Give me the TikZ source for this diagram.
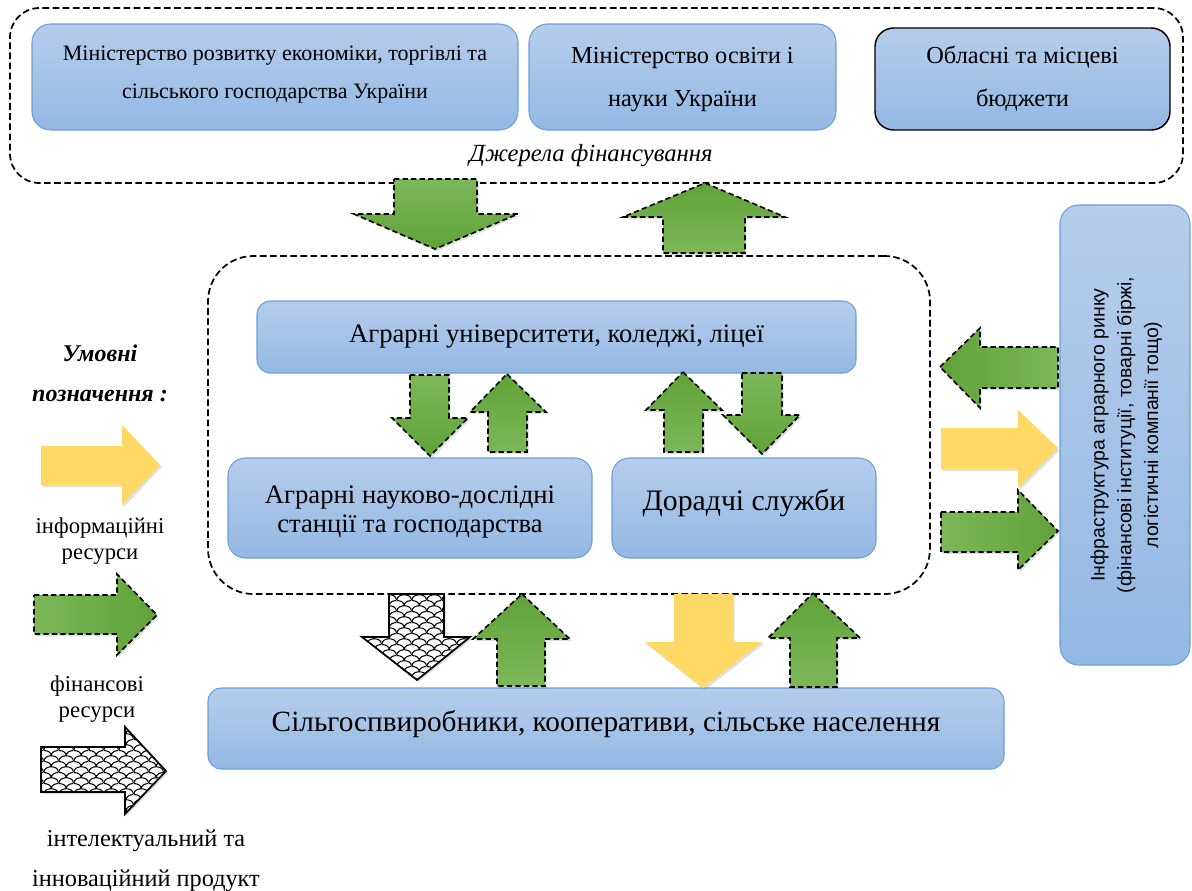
\documentclass[tikz,border=0pt]{standalone}
\usepackage{fontspec}
\setmainfont{Liberation Serif}
\setsansfont{Liberation Sans}
\usetikzlibrary{fit,patterns,shadows}

\definecolor{boxtop}{RGB}{181,205,235}
\definecolor{boxbot}{RGB}{148,184,227}
\definecolor{boxline}{RGB}{108,160,216}
\definecolor{grlight}{RGB}{124,183,88}
\definecolor{grdark}{RGB}{96,162,56}
\definecolor{infoyellow}{RGB}{255,217,102}

\newcommand\fsz[2]{\fontsize{#1}{#2}\selectfont}

% fish-scale fill of the product arrows
\pgfdeclarepatternformonly{scales}{\pgfqpoint{0pt}{0pt}}{\pgfqpoint{11pt}{8pt}}{\pgfqpoint{11pt}{8pt}}{
  \pgfsetlinewidth{0.8pt}
  \pgfpathmoveto{\pgfqpoint{0pt}{0pt}}
  \pgfpathcurveto{\pgfqpoint{0pt}{5.33pt}}{\pgfqpoint{11pt}{5.33pt}}{\pgfqpoint{11pt}{0pt}}
  \pgfpathmoveto{\pgfqpoint{5.5pt}{4pt}}
  \pgfpathcurveto{\pgfqpoint{5.5pt}{6.67pt}}{\pgfqpoint{8.25pt}{8pt}}{\pgfqpoint{11pt}{8pt}}
  \pgfpathmoveto{\pgfqpoint{0pt}{8pt}}
  \pgfpathcurveto{\pgfqpoint{2.75pt}{8pt}}{\pgfqpoint{5.5pt}{6.67pt}}{\pgfqpoint{5.5pt}{4pt}}
  \pgfusepath{stroke}
}

\tikzset{
  bluebox/.style={draw=boxline, line width=.8pt, rounded corners=10pt,
    top color=boxtop, bottom color=boxbot, inner sep=0pt},
  boxtext/.style={align=center},
  dashframe/.style={draw, line width=1.3pt, dash pattern=on 5pt off 2.6pt, inner sep=0pt},
  arrshadow/.style={drop shadow={shadow xshift=1.2pt, shadow yshift=-1.6pt, opacity=.25}},
  finarrow/.style={draw, line width=1.2pt, dash pattern=on 4pt off 2.4pt, arrshadow},
  infarrow/.style={fill=infoyellow, arrshadow},
  prodarrow/.style={draw, line width=1.3pt, fill=white, postaction={pattern=scales}, arrshadow},
  gdown/.style={finarrow, top color=grlight, bottom color=grdark},
  gup/.style={finarrow, top color=grdark, bottom color=grlight},
  gleft/.style={finarrow, left color=grdark, right color=grlight},
  gright/.style={finarrow, left color=grlight, right color=grdark},
  legtext/.style={align=center, font=\fsz{17}{19.5}}
}

\begin{document}
\begin{tikzpicture}[x=.75pt,y=-.75pt]
  \useasboundingbox (0,0) rectangle (1192,890);

  % sources of funding
  \node[dashframe, rounded corners=22pt, fit={(10,8) (1183,183)}] (sources) {};
  \node[bluebox, rounded corners=14pt, fit={(32,24) (518,130)}] (mineco) {};
  \node[bluebox, rounded corners=14pt, fit={(529,24) (836,130)}] (minedu) {};
  \node[bluebox, draw=black, line width=1.1pt, rounded corners=14pt, fit={(875,28) (1170,130)}] (budgets) {};
  \node[boxtext, font=\fsz{16.5}{28.5}] (minecotext) at ([yshift=1.5pt]mineco.center)
    {Міністерство розвитку економіки, торгівлі та\\сільського господарства України};
  \node[boxtext, font=\fsz{18.3}{32}] (minedutext) at ([yshift=-2pt]minedu.center) {Міністерство освіти і\\науки України};
  \node[boxtext, font=\fsz{18.3}{32}] (budgetstext) at ([yshift=.5pt]budgets.center) {Обласні та місцеві\\бюджети};
  \node[font=\itshape\fsz{18.5}{22}] (srclabel) at (591,156) {Джерела фінансування};

  % education, science and advisory block
  \node[dashframe, rounded corners=34pt, fit={(208,256) (930,594)}] (core) {};
  \node[bluebox, fit={(257,301) (856,373)}] (univ) {};
  \node[bluebox, rounded corners=13pt, fit={(228,458) (592,558)}] (stations) {};
  \node[bluebox, rounded corners=13pt, fit={(612,458) (876,558)}] (advisory) {};
  \node[boxtext, font=\fsz{20}{24}] (univtext) at (univ.center) {Аграрні університети, коледжі, ліцеї};
  \node[boxtext, font=\fsz{20}{22}] (stationstext) at ([yshift=-3pt]stations.center)
    {Аграрні науково-дослідні\\станції та господарства};
  \node[boxtext, font=\fsz{22.3}{26}] (advisorytext) at ([yshift=3.5pt]advisory.center) {Дорадчі служби};

  \node[bluebox, fit={(208,688) (1004,769)}] (farmers) {};
  \node[boxtext, font=\fsz{22}{26}] (farmerstext) at ([yshift=3.5pt]farmers.center)
    {Сільгоспвиробники, кооперативи, сільське населення};

  \node[bluebox, rounded corners=14pt, fit={(1060,205) (1190,665)}] (infra) {};
  \node[rotate=90, boxtext, font=\sffamily\fsz{14.6}{20}] (infratext) at ([xshift=1pt]infra.center)
    {Інфраструктура аграрного ринку\\(фінансові інституції, товарні біржі,\\логістичні компанії тощо)};

  % arrows sources <-> core
  \draw[gdown] (394,179) -- (477,179) -- (477,214) -- (518,214) -- (435,249) -- (354,214) -- (394,214) -- cycle;
  \draw[gup] (705,183) -- (785,217) -- (745,217) -- (745,253) -- (663,253) -- (663,217) -- (623,217) -- cycle;

  % arrows inside the core
  \draw[gdown] (410,375) -- (449,375) -- (449,418) -- (468,418) -- (430,456) -- (392,418) -- (410,418) -- cycle;
  \draw[gup] (507,374) -- (546,412) -- (527,412) -- (527,452) -- (488,452) -- (488,412) -- (470,412) -- cycle;
  \draw[gup] (683,372) -- (722,410) -- (703,410) -- (703,452) -- (664,452) -- (664,410) -- (646,410) -- cycle;
  \draw[gdown] (742,373) -- (782,373) -- (782,415) -- (800,415) -- (762,454) -- (723,415) -- (742,415) -- cycle;

  % arrows core <-> farmers
  \draw[prodarrow] (389,594) -- (444,594) -- (444,637) -- (470,637) -- (417,680) -- (362,637) -- (389,637) -- cycle;
  \draw[gup] (522,594) -- (570,639) -- (545,639) -- (545,686) -- (497,686) -- (497,639) -- (473,639) -- cycle;
  \path[infarrow] (674,594) -- (733,594) -- (733,642) -- (762,642) -- (703,688) -- (645,642) -- (674,642) -- cycle;
  \draw[gup] (813,593) -- (860,638) -- (837,638) -- (837,687) -- (790,687) -- (790,638) -- (768,638) -- cycle;

  % arrows core <-> market infrastructure
  \draw[gleft] (940,367) -- (980,328) -- (980,347) -- (1058,347) -- (1058,388) -- (980,388) -- (980,408) -- cycle;
  \path[infarrow] (941,428) -- (1018,428) -- (1018,410) -- (1058,448) -- (1018,488) -- (1018,469) -- (941,469) -- cycle;
  \draw[gright] (941,512) -- (1018,512) -- (1018,490) -- (1058,531) -- (1018,570) -- (1018,552) -- (941,552) -- cycle;

  % legend
  \node[align=center, font=\bfseries\itshape\fsz{18}{30}] (legtitle) at (100,373) {Умовні\\позначення :};
  \path[infarrow] (41,446) -- (122,446) -- (122,425) -- (160,465) -- (122,505) -- (122,485) -- (41,485) -- cycle;
  \node[legtext] (leginfo) at (100,541) {інформаційні\\ресурси};
  \draw[gright] (34,595) -- (117,595) -- (117,574) -- (157,615) -- (117,655) -- (117,634) -- (34,634) -- cycle;
  \node[legtext, font=\fsz{17}{20}] (legfin) at (97,699) {фінансові\\ресурси};
  \draw[prodarrow] (41,747) -- (125,747) -- (125,727) -- (166,771) -- (125,814) -- (125,792) -- (41,792) -- cycle;
  \node[legtext, font=\fsz{18.2}{30}] (legprod) at (146,861) {інтелектуальний та\\інноваційний продукт};
\end{tikzpicture}
\end{document}
